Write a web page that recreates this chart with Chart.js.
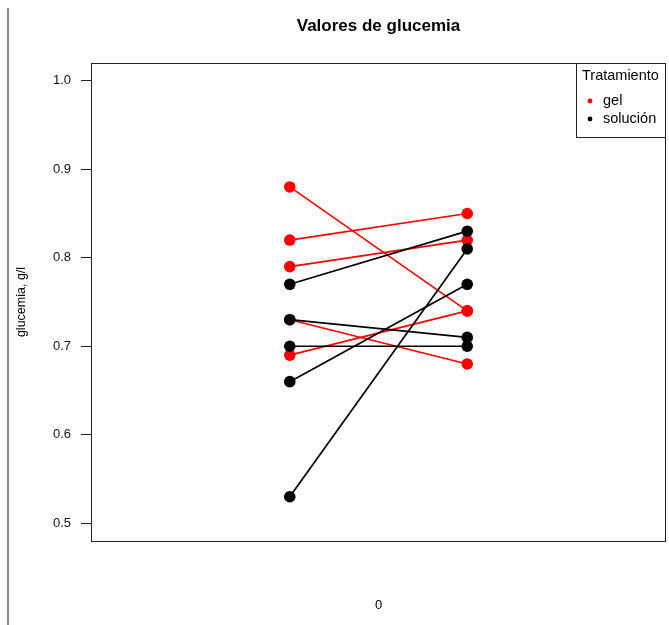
<!DOCTYPE html>
<html>
<head>
<meta charset="utf-8">
<title>Valores de glucemia</title>
<script src="https://cdn.jsdelivr.net/npm/chart.js@4"></script>
<style>
  body { margin: 0; background: #fff; }
  .chart-box { width: 669px; height: 625px; position: relative; }
</style>
</head>
<body>
<div class="chart-box"><canvas class="my-chart"></canvas></div>
<script>
// posiciones en x de las dos mediciones
const momentos = [1, 2];

// tratamiento gel
const gelInicio = [0.88, 0.82, 0.79, 0.73, 0.69];
const gelFinal = [0.74, 0.85, 0.82, 0.68, 0.74];

// tratamiento solucion
const solInicio = [0.77, 0.73, 0.70, 0.66, 0.53];
const solFinal = [0.83, 0.71, 0.70, 0.77, 0.81];

const yTicks = [0.5, 0.6, 0.7, 0.8, 0.9, 1.0];

const tratamientos = ["gel", "solución"];
const colores = ["#ff0000", "#000000"];

const fontFamily = "'Liberation Sans', Arial, sans-serif";

const pairDataset = (a, b, color) => ({
  data: [
    { x: momentos[0], y: a },
    { x: momentos[1], y: b },
  ],
  showLine: true,
  borderColor: color,
  backgroundColor: color,
  borderWidth: 1.7,
  pointRadius: 5.8,
  pointBorderWidth: 0,
  pointHoverRadius: 5.8,
});

// chart.js pinta el primer dataset encima, asi que la solucion va primero
const datasets = [];
solInicio.forEach((v, i) => datasets.push(pairDataset(v, solFinal[i], colores[1])));
gelInicio.forEach((v, i) => datasets.push(pairDataset(v, gelFinal[i], colores[0])));

// caja, titulo, leyenda y linea gris del borde
const extras = {
  id: "extras",
  beforeDraw(chart) {
    const ctx = chart.ctx;
    ctx.save();
    ctx.strokeStyle = "#8a8a8a";
    ctx.lineWidth = 2;
    ctx.beginPath();
    ctx.moveTo(8, 8);
    ctx.lineTo(8, 625);
    ctx.stroke();
    ctx.restore();
  },
  afterDraw(chart) {
    const ctx = chart.ctx;
    const a = chart.chartArea;
    ctx.save();
    ctx.strokeStyle = "#222";
    ctx.lineWidth = 1;
    ctx.strokeRect(Math.round(a.left) + 0.5, Math.round(a.top) + 0.5,
      Math.round(a.right - a.left) - 1, Math.round(a.bottom - a.top));

    ctx.fillStyle = "#000";
    ctx.font = "bold 17px " + fontFamily;
    ctx.textAlign = "center";
    ctx.textBaseline = "middle";
    ctx.fillText("Valores de glucemia", (a.left + a.right) / 2, 26);

    // leyenda
    const lx = 576, ly = Math.round(a.top), lw = Math.round(a.right) - 576, lh = 74;
    ctx.fillStyle = "#fff";
    ctx.fillRect(lx, ly, lw, lh);
    ctx.strokeStyle = "#222";
    ctx.strokeRect(lx + 0.5, ly + 0.5, lw - 1, lh);
    ctx.fillStyle = "#000";
    ctx.font = "14.5px " + fontFamily;
    ctx.textAlign = "left";
    ctx.fillText("Tratamiento", 582, ly + 13);
    tratamientos.forEach((t, i) => {
      const y = ly + 38 + i * 18;
      ctx.fillStyle = colores[i];
      ctx.beginPath();
      ctx.arc(590, y, 2.4, 0, Math.PI * 2);
      ctx.fill();
      ctx.fillStyle = "#000";
      ctx.fillText(t, 603, y);
    });
    ctx.restore();
  },
};

new Chart(document.querySelector(".my-chart"), {
  type: "scatter",
  data: { datasets: datasets },
  options: {
    responsive: true,
    maintainAspectRatio: false,
    animation: false,
    layout: {
      autoPadding: false,
      padding: { top: 63, right: 3, left: 0, bottom: 0 },
    },
    plugins: {
      legend: { display: false },
      tooltip: { enabled: false },
    },
    scales: {
      x: {
        type: "linear",
        min: -0.12,
        max: 3.12,
        grid: { display: false },
        border: { display: false },
        ticks: { display: false },
        title: {
          display: true,
          text: "0",
          color: "#000",
          font: { family: fontFamily, size: 13 },
          padding: { top: 0, bottom: 12 },
        },
        afterFit: (scale) => { scale.height = 84; },
      },
      y: {
        type: "linear",
        min: 0.48,
        max: 1.02,
        afterBuildTicks: (scale) => {
          scale.ticks = yTicks.map((v) => ({ value: v }));
        },
        grid: {
          drawOnChartArea: false,
          drawTicks: true,
          tickLength: 10,
          tickColor: "#222",
        },
        border: { display: false },
        ticks: {
          color: "#111",
          padding: 10,
          font: { family: fontFamily, size: 13 },
          callback: (v) => v.toFixed(1),
        },
        title: {
          display: true,
          text: "glucemia, g/l",
          color: "#000",
          font: { family: fontFamily, size: 12.5 },
          padding: { top: 14, bottom: 0 },
        },
        afterFit: (scale) => { scale.width = 91; },
      },
    },
  },
  plugins: [extras],
});
</script>
</body>
</html>
